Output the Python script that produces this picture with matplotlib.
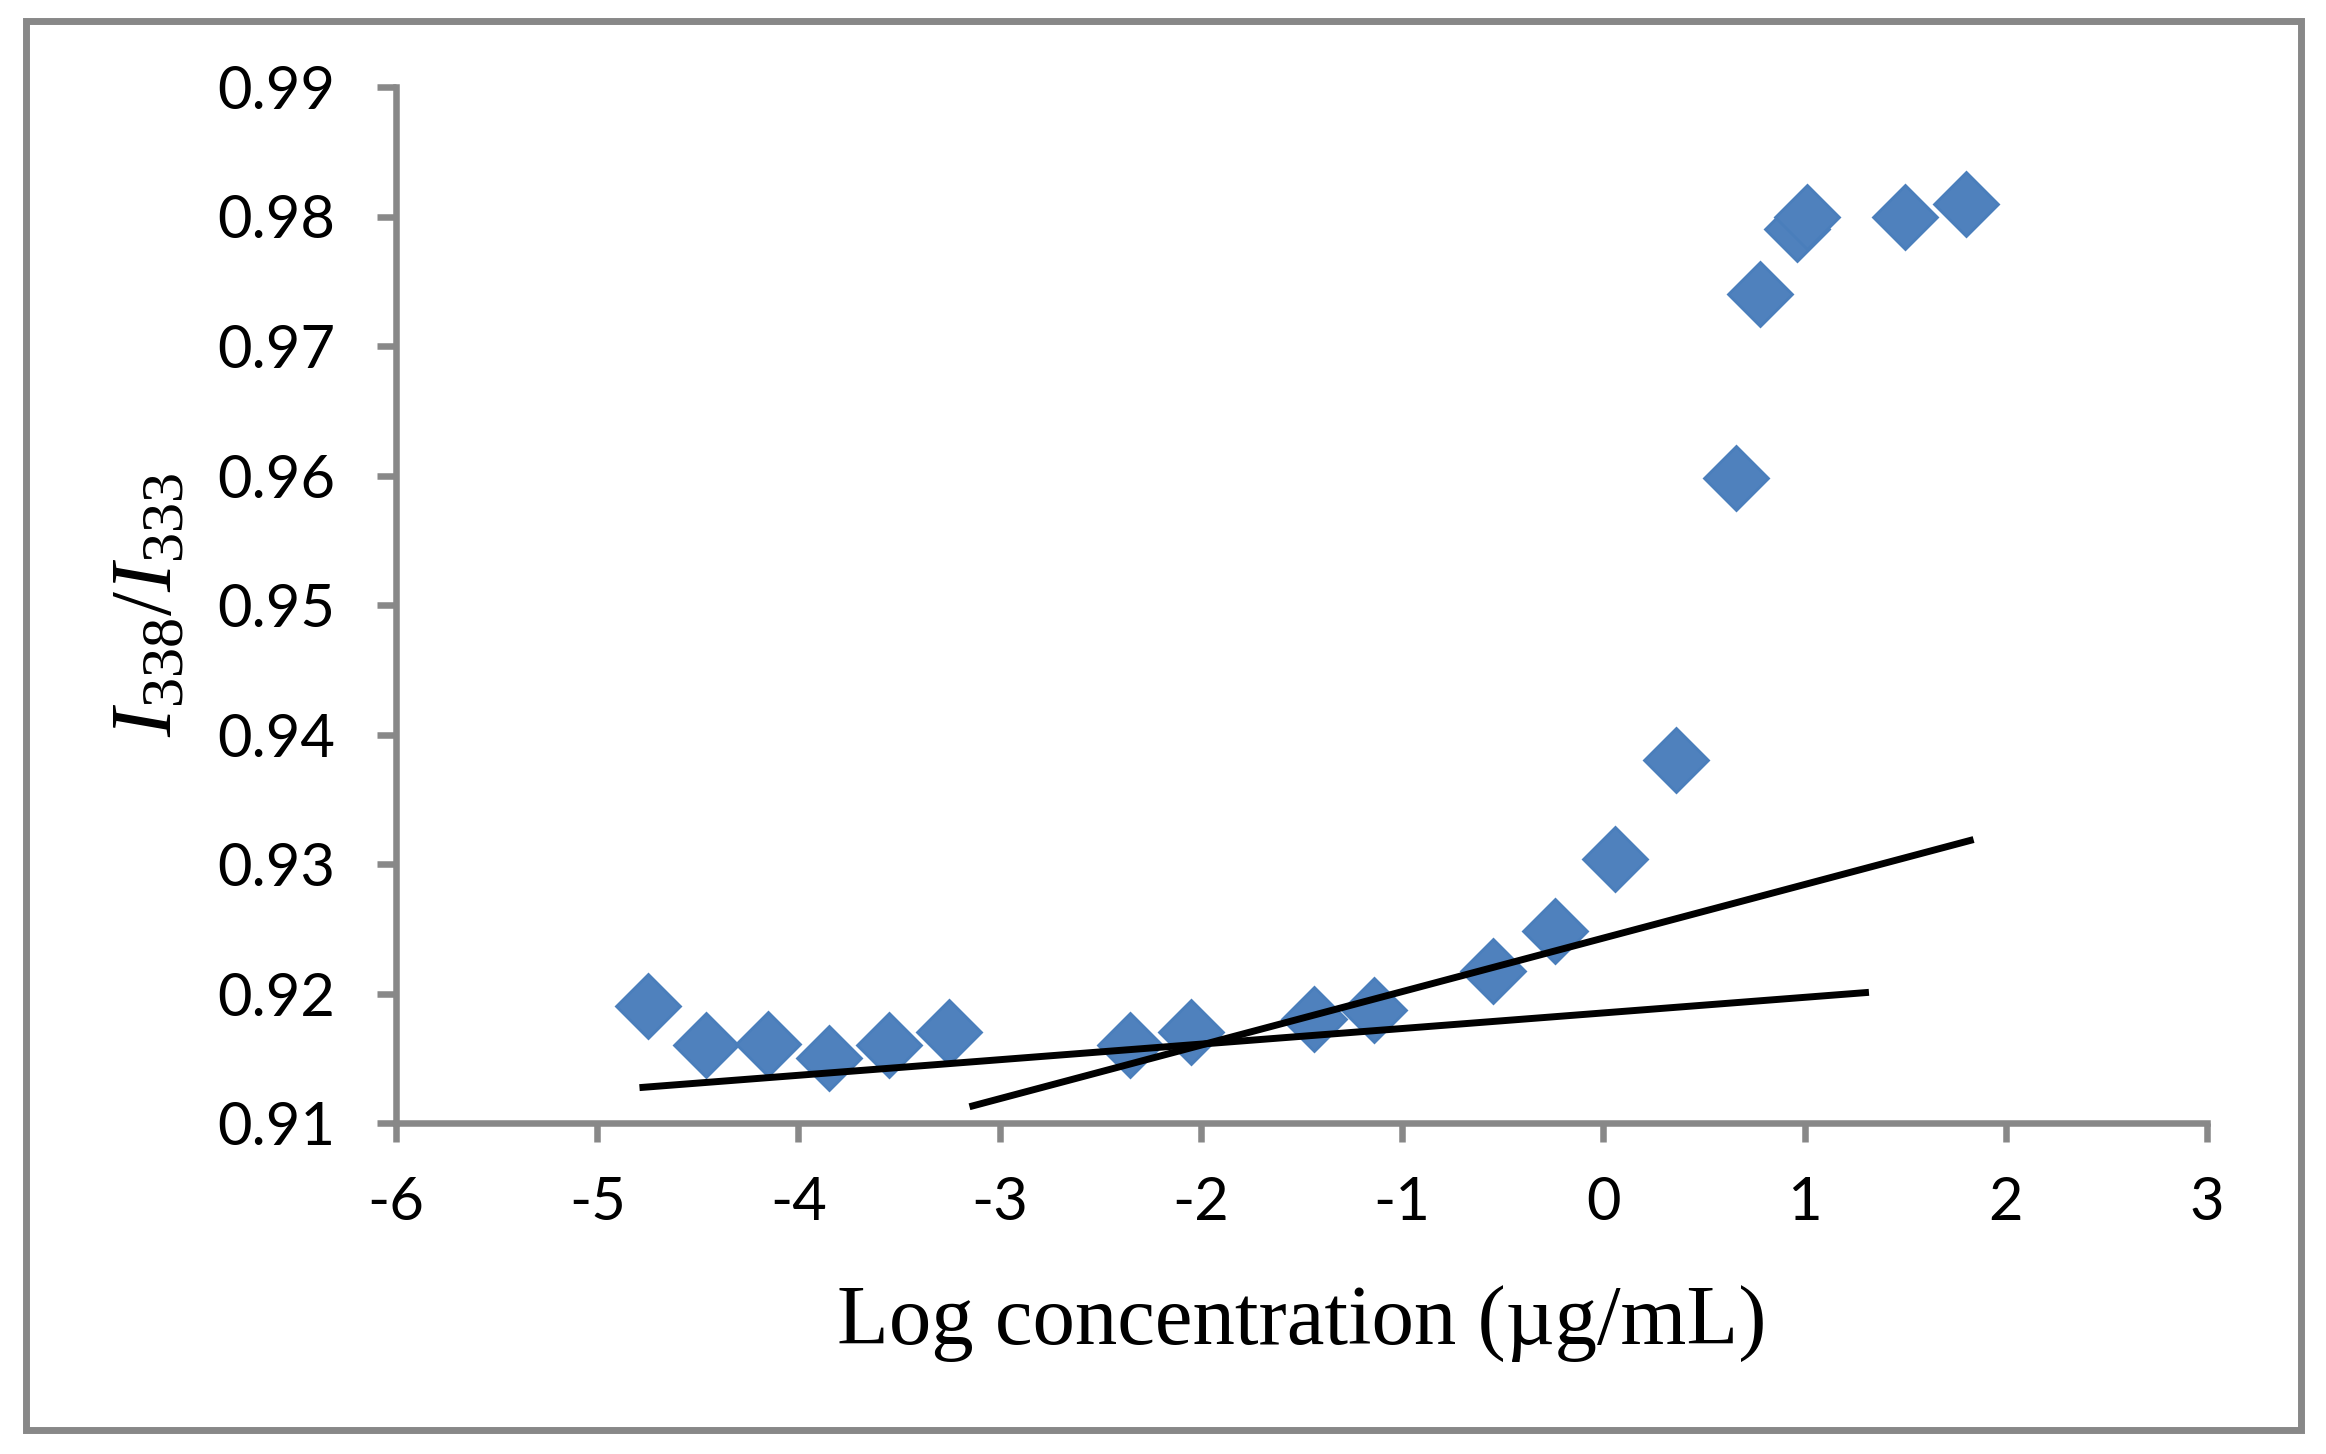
import matplotlib
matplotlib.use('Agg')
import matplotlib.pyplot as plt
from matplotlib.patches import Rectangle
import numpy as np

# data
log_conc = [-4.75, -4.46, -4.15, -3.85, -3.55, -3.25, -2.35, -2.05, -1.44, -1.14,
            -0.55, -0.24, 0.06, 0.36, 0.66, 0.78, 0.96, 1.01, 1.50, 1.80]
ratio = [0.9190, 0.9160, 0.9161, 0.9150, 0.9160, 0.9170, 0.9160, 0.9170, 0.9180, 0.9187,
         0.9217, 0.9248, 0.9304, 0.9380, 0.9598, 0.9740, 0.9790, 0.9800, 0.9800, 0.9810]

# two linear trend lines: slope, intercept, x range
fit_slopes = [0.001204, 0.004135]
fit_intercepts = [0.91850, 0.92428]
fit_ranges = [(-4.79, 1.32), (-3.15, 1.84)]

x_ticks = [-6, -5, -4, -3, -2, -1, 0, 1, 2, 3]
y_ticks = [0.91, 0.92, 0.93, 0.94, 0.95, 0.96, 0.97, 0.98, 0.99]

plt.rcParams['mathtext.fontset'] = 'custom'
plt.rcParams['mathtext.rm'] = 'Liberation Serif'
plt.rcParams['mathtext.it'] = 'Liberation Serif:italic'
plt.rcParams['mathtext.bf'] = 'Liberation Serif:bold'

axis_grey = '#888888'

fig = plt.figure(figsize=(23.26, 14.54), dpi=100)
ax = fig.add_axes([396 / 2326, 1 - 1123 / 1454, (2207 - 396) / 2326, (1123 - 87) / 1454])

ax.plot(log_conc, ratio, linestyle='none', marker='D', markersize=33,
        markerfacecolor='#4F81BD', markeredgecolor='#4A7EBB', markeredgewidth=2, zorder=2)

for slope, icpt, (x0, x1) in zip(fit_slopes, fit_intercepts, fit_ranges):
    xs = np.array([x0, x1])
    ax.plot(xs, slope * xs + icpt, color='black', linewidth=5, zorder=3,
            solid_capstyle='butt')

ax.set_xlim(-6, 3)
ax.set_ylim(0.91, 0.99)
ax.set_xticks(x_ticks)
ax.set_yticks(y_ticks)
ax.set_xticklabels([str(t) for t in x_ticks])
ax.set_yticklabels(['%.2f' % t for t in y_ticks])

for side in ['top', 'right']:
    ax.spines[side].set_visible(False)
for side in ['left', 'bottom']:
    ax.spines[side].set_color(axis_grey)
    ax.spines[side].set_linewidth(4.7)
    ax.spines[side].set_capstyle('projecting')

ax.tick_params(axis='both', direction='out', length=14, width=4.7, color=axis_grey,
               labelsize=43, labelcolor='black')
ax.tick_params(axis='x', pad=24)
ax.tick_params(axis='y', pad=30)
for lab in ax.get_xticklabels() + ax.get_yticklabels():
    lab.set_fontfamily('Lato')

ax.set_xlabel('Log concentration (µg/mL)', fontsize=61, family='Liberation Serif', labelpad=40)
ax.set_ylabel(r'$\mathit{I}_{\mathrm{338}}/\mathit{I}_{\mathrm{333}}$', fontsize=62, labelpad=20)

# outer chart border
fig.patches.append(Rectangle((26 / 2326, 1 - 1430 / 1454), (2301 - 26) / 2326, (1430 - 21) / 1454,
                             transform=fig.transFigure, fill=False, edgecolor=axis_grey,
                             linewidth=5, zorder=0))

fig.savefig('out.png', dpi=100, facecolor='white')
